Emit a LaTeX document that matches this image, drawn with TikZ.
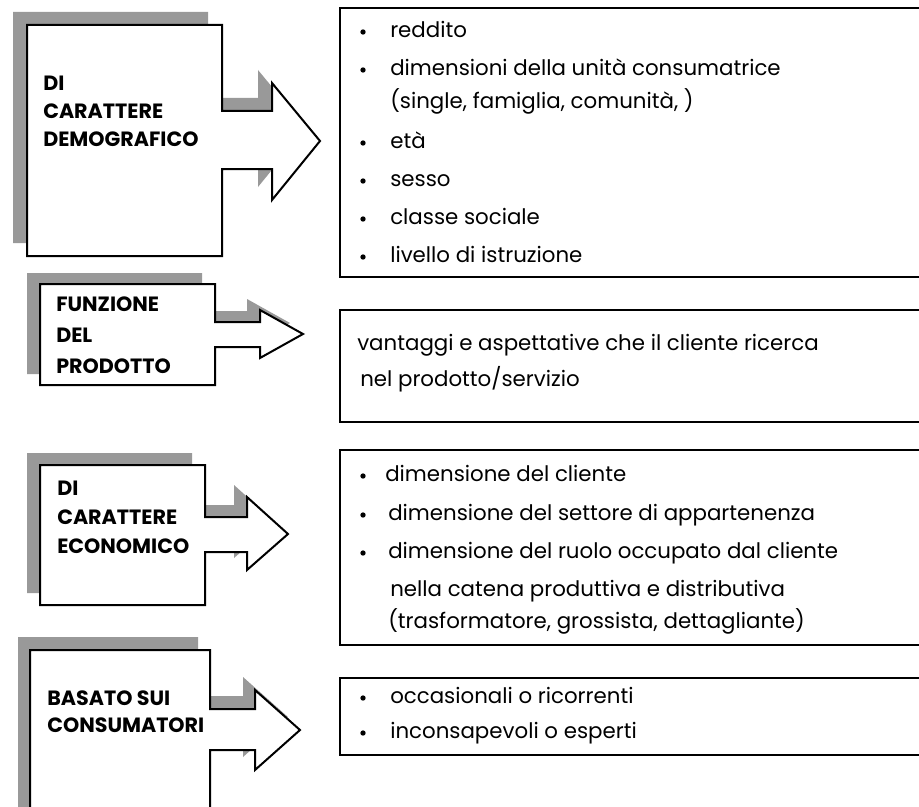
\documentclass[tikz,border=0pt]{standalone}
\usepackage{fontspec}
\setmainfont{Poppins}
\begin{document}
\begin{tikzpicture}[x=0.75pt,y=-0.75pt,
  shadowgray/.style={fill=black!40},
  outline/.style={draw=black,line width=1.5pt,fill=white,line join=miter},
  listbox/.style={draw=black,line width=1.5pt,fill=white},
  head/.style={anchor=mid west,inner sep=0pt,font=\fontsize{15.5}{19}\selectfont\bfseries},
  item/.style={anchor=mid west,inner sep=0pt,font=\fontsize{16}{19}\selectfont},
  dot/.style={circle,fill=black,inner sep=0pt,minimum size=4pt,yshift=1.5pt}]
\useasboundingbox (0,0) rectangle (919,806);
\clip (0,0) rectangle (919,806);
\fill[white] (0,0) rectangle (919,806);

% callout shape: gray copy shifted up-left, then the white outlined shape
\newcommand\callout[3]{%
  \fill[shadowgray,shift={(#2,#3)}] #1 -- cycle;
  \draw[outline] #1 -- cycle;}

\callout{(27,25) -- (222,25) -- (222,111) -- (272,111) -- (272,83) -- (320,141) -- (272,200) -- (272,169) -- (222,169) -- (222,256) -- (27,256)}{-14}{-13}
\callout{(40,284) -- (215,284) -- (215,322) -- (260,322) -- (260,310) -- (303,334) -- (260,358) -- (260,347) -- (215,347) -- (215,385) -- (40,385)}{-13}{-11}
\callout{(40,465) -- (205,465) -- (205,517) -- (247,517) -- (247,497) -- (288,534) -- (247,570) -- (247,552) -- (205,552) -- (205,605) -- (40,605)}{-13}{-12}
\callout{(30,650) -- (210,650) -- (210,709) -- (255,709) -- (255,690) -- (300,730) -- (255,770) -- (255,750) -- (210,750) -- (210,840) -- (30,840)}{-12}{-13}

% headings
\node[head] (h1a) at (43,87)  {DI};
\node[head] (h1b) at (43,115) {CARATTERE};
\node[head] (h1c) at (43,143) {DEMOGRAFICO};
\node[head] (h2a) at (56,308) {FUNZIONE};
\node[head] (h2b) at (56,339) {DEL};
\node[head] (h2c) at (56,370) {PRODOTTO};
\node[head] (h3a) at (57,492) {DI};
\node[head] (h3b) at (57,521) {CARATTERE};
\node[head] (h3c) at (57,550) {ECONOMICO};
\node[head] (h4a) at (47,702) {BASATO SUI};
\node[head] (h4b) at (47,729) {CONSUMATORI};

% list boxes
\draw[listbox] (340,8) rectangle (940,277);
\draw[listbox] (340,310) rectangle (940,422);
\draw[listbox] (340,450) rectangle (940,645);
\draw[listbox] (340,678) rectangle (940,755);

% demographic items
\node[dot] (b1) at (363,34) {};  \node[item] (t1) at (390,34) {reddito};
\node[dot] (b2) at (363,72) {};  \node[item] (t2) at (390,72) {dimensioni della unità consumatrice};
\node[item] (t2b) at (390,105) {(single, famiglia, comunità, )};
\node[dot] (b3) at (363,145) {}; \node[item] (t3) at (390,145) {età};
\node[dot] (b4) at (363,183) {}; \node[item] (t4) at (390,183) {sesso};
\node[dot] (b5) at (363,221) {}; \node[item] (t5) at (390,221) {classe sociale};
\node[dot] (b6) at (363,259) {}; \node[item] (t6) at (390,259) {livello di istruzione};

% product function
\node[item] (p1) at (357,347) {vantaggi e aspettative che il cliente ricerca};
\node[item] (p2) at (360,383) {nel prodotto/servizio};

% economic items
\node[dot] (e1d) at (363,478) {}; \node[item] (e1) at (385,478) {dimensione del cliente};
\node[dot] (e2d) at (363,517) {}; \node[item] (e2) at (388,517) {dimensione del settore di appartenenza};
\node[dot] (e3d) at (363,555) {}; \node[item] (e3) at (388,555) {dimensione del ruolo occupato dal cliente};
\node[item] (e4) at (390,593) {nella catena produttiva e distributiva};
\node[item] (e5) at (388,625) {(trasformatore, grossista, dettagliante)};

% consumer items
\node[dot] (c1d) at (363,700) {}; \node[item] (c1) at (390,700) {occasionali o ricorrenti};
\node[dot] (c2d) at (363,735) {}; \node[item] (c2) at (390,735) {inconsapevoli o esperti};
\end{tikzpicture}
\end{document}
